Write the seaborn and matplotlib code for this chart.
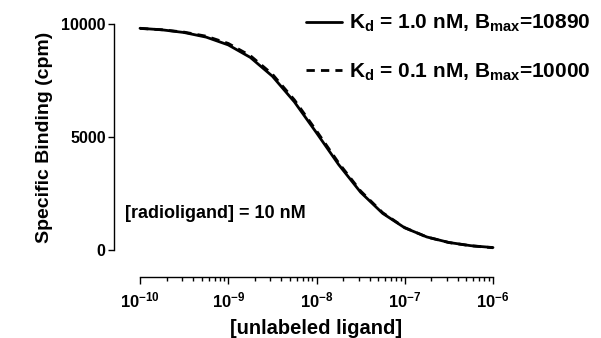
import numpy as np
import pandas as pd
import matplotlib
matplotlib.use("Agg")
import matplotlib.pyplot as plt
import matplotlib.ticker as mticker
import seaborn as sns

# ---- data ----
log_conc = [-10.0, -9.75, -9.5, -9.25, -9.0, -8.75, -8.5, -8.25, -8.0,
            -7.75, -7.5, -7.25, -7.0, -6.75, -6.5, -6.25, -6.0]
binding_kd1 = [9811, 9742, 9623, 9419, 9075, 8522, 7690, 6551, 5186,
               3784, 2555, 1620, 981, 577, 333, 190, 108]
binding_kd01 = [9804, 9745, 9640, 9460, 9140, 8600, 7780, 6640, 5270,
                3860, 2610, 1650, 990, 575, 330, 185, 100]
series_labels = [r"$\mathbf{K_d}$ = 1.0 nM, $\mathbf{B_{max}}$=10890",
                 r"$\mathbf{K_d}$ = 0.1 nM, $\mathbf{B_{max}}$=10000"]
y_ticks = [0, 5000, 10000]
y_tick_labels = ["0", "5000", "10000"]
x_ticks = [1e-10, 1e-9, 1e-8, 1e-7, 1e-6]
x_tick_labels = [r"$\mathbf{10^{-10}}$", r"$\mathbf{10^{-9}}$", r"$\mathbf{10^{-8}}$",
                 r"$\mathbf{10^{-7}}$", r"$\mathbf{10^{-6}}$"]
annotation = "[radioligand] = 10 nM"
x_label = "[unlabeled ligand]"
y_label = "Specific Binding (cpm)"

conc = [10 ** v for v in log_conc]
df = pd.DataFrame({
    "conc": conc + conc,
    "binding": binding_kd1 + binding_kd01,
    "series": [series_labels[0]] * len(conc) + [series_labels[1]] * len(conc),
})

sns.set_style("ticks")
plt.rcParams["font.family"] = ["Liberation Sans", "DejaVu Sans"]
plt.rcParams["font.weight"] = "bold"
plt.rcParams["mathtext.fontset"] = "custom"
plt.rcParams["mathtext.bf"] = "Liberation Sans:bold"
plt.rcParams["mathtext.rm"] = "Liberation Sans:bold"
plt.rcParams["mathtext.it"] = "Liberation Sans:bold"
for k in ["text.color", "axes.labelcolor", "xtick.color", "ytick.color", "axes.edgecolor"]:
    plt.rcParams[k] = "black"

fig = plt.figure(figsize=(6.01, 3.38), dpi=100)
ax = fig.add_axes([140 / 601, 1 - 250 / 338, 353 / 601, 226 / 338])

sns.lineplot(data=df, x="conc", y="binding", hue="series", style="series",
             palette=["black", "black"],
             dashes={series_labels[0]: "", series_labels[1]: (3, 2.2)},
             linewidth=2.0, ax=ax, legend=False, clip_on=False)

ax.set_xscale("log")
ax.set_xlim(1e-10, 1e-6)
ax.set_ylim(0, 10000)

ax.spines["top"].set_visible(False)
ax.spines["right"].set_visible(False)
ax.spines["left"].set_position(("outward", 18.7))
ax.spines["bottom"].set_position(("outward", 19.4))
for s in ["left", "bottom"]:
    ax.spines[s].set_linewidth(1.0)
    ax.spines[s].set_color("black")

ax.set_yticks(y_ticks)
ax.set_yticklabels(y_tick_labels, fontsize=11.5, fontweight="bold", color="black")
ax.set_xticks(x_ticks)
ax.set_xticklabels(x_tick_labels, fontsize=12, color="black")
ax.xaxis.set_minor_locator(mticker.LogLocator(base=10, subs=np.arange(2, 10)))
ax.xaxis.set_minor_formatter(mticker.NullFormatter())
ax.tick_params(axis="both", which="major", direction="out", length=4, width=1.0,
               color="black", labelcolor="black", pad=2)
ax.tick_params(axis="x", which="major", length=5, pad=5)
ax.tick_params(axis="x", which="minor", direction="out", length=3, width=1.0, color="black")

ax.set_xlabel(x_label, fontsize=14.5, fontweight="bold", labelpad=6, color="black")
ax.set_ylabel(y_label, fontsize=14, fontweight="bold", labelpad=6, color="black")

ax.text(125 / 601, 1 - 214 / 338, annotation, transform=fig.transFigure,
        fontsize=13, fontweight="bold", ha="left", va="center", color="black")

handles = [plt.Line2D([], [], color="black", lw=2.0),
           plt.Line2D([], [], color="black", lw=2.0, dashes=(3, 2.2))]
fig.legend(handles, series_labels, loc="upper left",
           bbox_to_anchor=(306 / 601, 1 - 13 / 338), frameon=False,
           fontsize=15, handlelength=1.75, handletextpad=0.3,
           labelspacing=1.3, borderpad=0, borderaxespad=0, labelcolor="black")

fig.savefig("out.png", dpi=100)
